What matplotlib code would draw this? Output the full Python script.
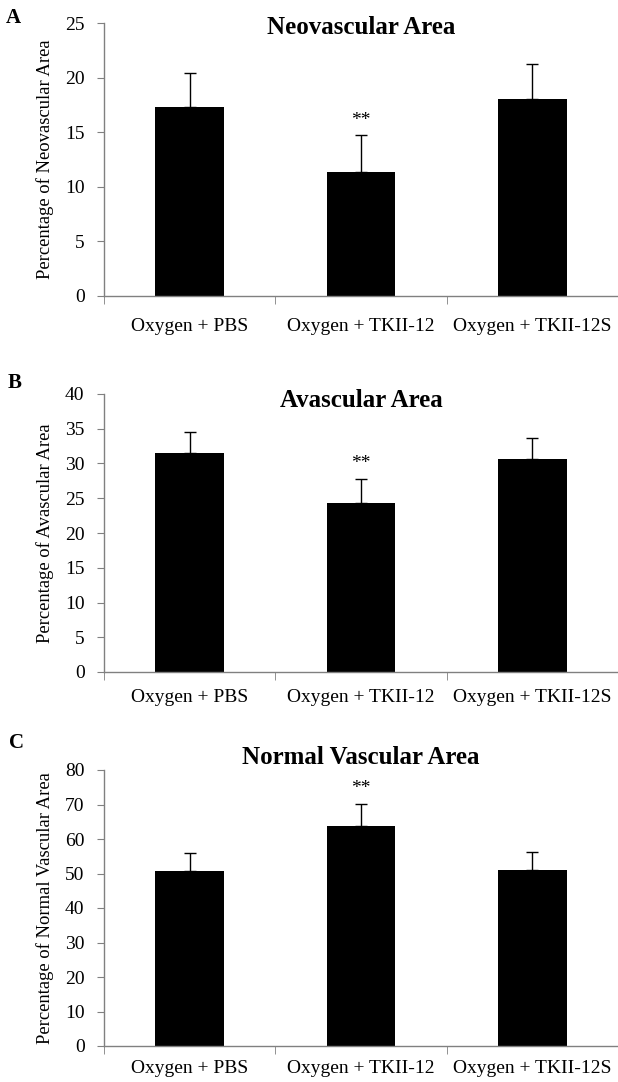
import matplotlib
matplotlib.use("Agg")
import matplotlib.pyplot as plt
import numpy as np

plt.rcParams["font.family"] = ["Liberation Serif", "DejaVu Serif"]

# Data
groups = ["Oxygen + PBS", "Oxygen + TKII-12", "Oxygen + TKII-12S"]

neo_mean = [17.3, 11.4, 18.0]
neo_err = [3.1, 3.3, 3.2]

avas_mean = [31.5, 24.3, 30.6]
avas_err = [3.1, 3.5, 3.1]

norm_mean = [50.8, 63.7, 51.1]
norm_err = [5.2, 6.5, 5.2]

titles = ["Neovascular Area", "Avascular Area", "Normal Vascular Area"]
ylabels = ["Percentage of Neovascular Area",
           "Percentage of Avascular Area",
           "Percentage of Normal Vascular Area"]
letters = ["A", "B", "C"]
ymax = [25, 40, 80]
ystep = [5, 5, 10]
signif = [1, 1, 1]  # index of bar marked with **

W, H = 618, 1082
fig = plt.figure(figsize=(W / 100, H / 100), dpi=100)

# panel boxes in pixels: (top, bottom)
boxes = [(23, 296), (394, 672), (770, 1046)]
title_y = [0.982, 0.975, 1.045]
xpad = [15.5, 12, 9.8]
letter_pos = [(13, 18), (15, 383), (17, 743)]
left_px, right_px = 104, 618

means = [neo_mean, avas_mean, norm_mean]
errs = [neo_err, avas_err, norm_err]

x = np.arange(len(groups))
for i in range(3):
    top, bot = boxes[i]
    ax = fig.add_axes([left_px / W, 1 - bot / H,
                       (right_px - left_px) / W, (bot - top) / H])
    e = np.array(errs[i])
    ax.bar(x, means[i], width=0.4, color="black", zorder=2)
    ax.errorbar(x, means[i], yerr=[np.zeros_like(e), e], fmt="none",
                ecolor="black", elinewidth=1, capsize=4, capthick=1, zorder=3)

    j = signif[i]
    ax.annotate("**", (x[j], means[i][j] + errs[i][j]), xytext=(0, 11),
                textcoords="offset points", ha="center", va="center",
                fontsize=14)

    ax.set_xlim(-0.5, 2.5)
    ax.set_ylim(0, ymax[i])
    ax.set_yticks(np.arange(0, ymax[i] + 0.1, ystep[i]))
    ax.set_xticks(x)
    ax.set_xticklabels(groups)
    ax.set_xticks([-0.5, 0.5, 1.5, 2.5], minor=True)
    ax.tick_params(axis="x", which="major", length=0, pad=xpad[i], labelsize=14)
    ax.tick_params(axis="x", which="minor", length=6, color="#808080", direction="out")
    ax.tick_params(axis="y", length=5, color="#808080", direction="out",
                   pad=9, labelsize=14)

    for s in ["top", "right"]:
        ax.spines[s].set_visible(False)
    for s in ["left", "bottom"]:
        ax.spines[s].set_color("#808080")
        ax.spines[s].set_linewidth(1)

    ax.set_ylabel(ylabels[i], fontsize=13.4, va="center")
    ax.yaxis.set_label_coords(-0.115, 0.5)

    ax.text(0.5, title_y[i], titles[i], transform=ax.transAxes,
            ha="center", va="center", fontsize=18, fontweight="bold")

    lx, ly = letter_pos[i]
    fig.text(lx / W, 1 - ly / H, letters[i], ha="center", va="center",
             fontsize=15, fontweight="bold")

fig.savefig("out.png", dpi=100)
